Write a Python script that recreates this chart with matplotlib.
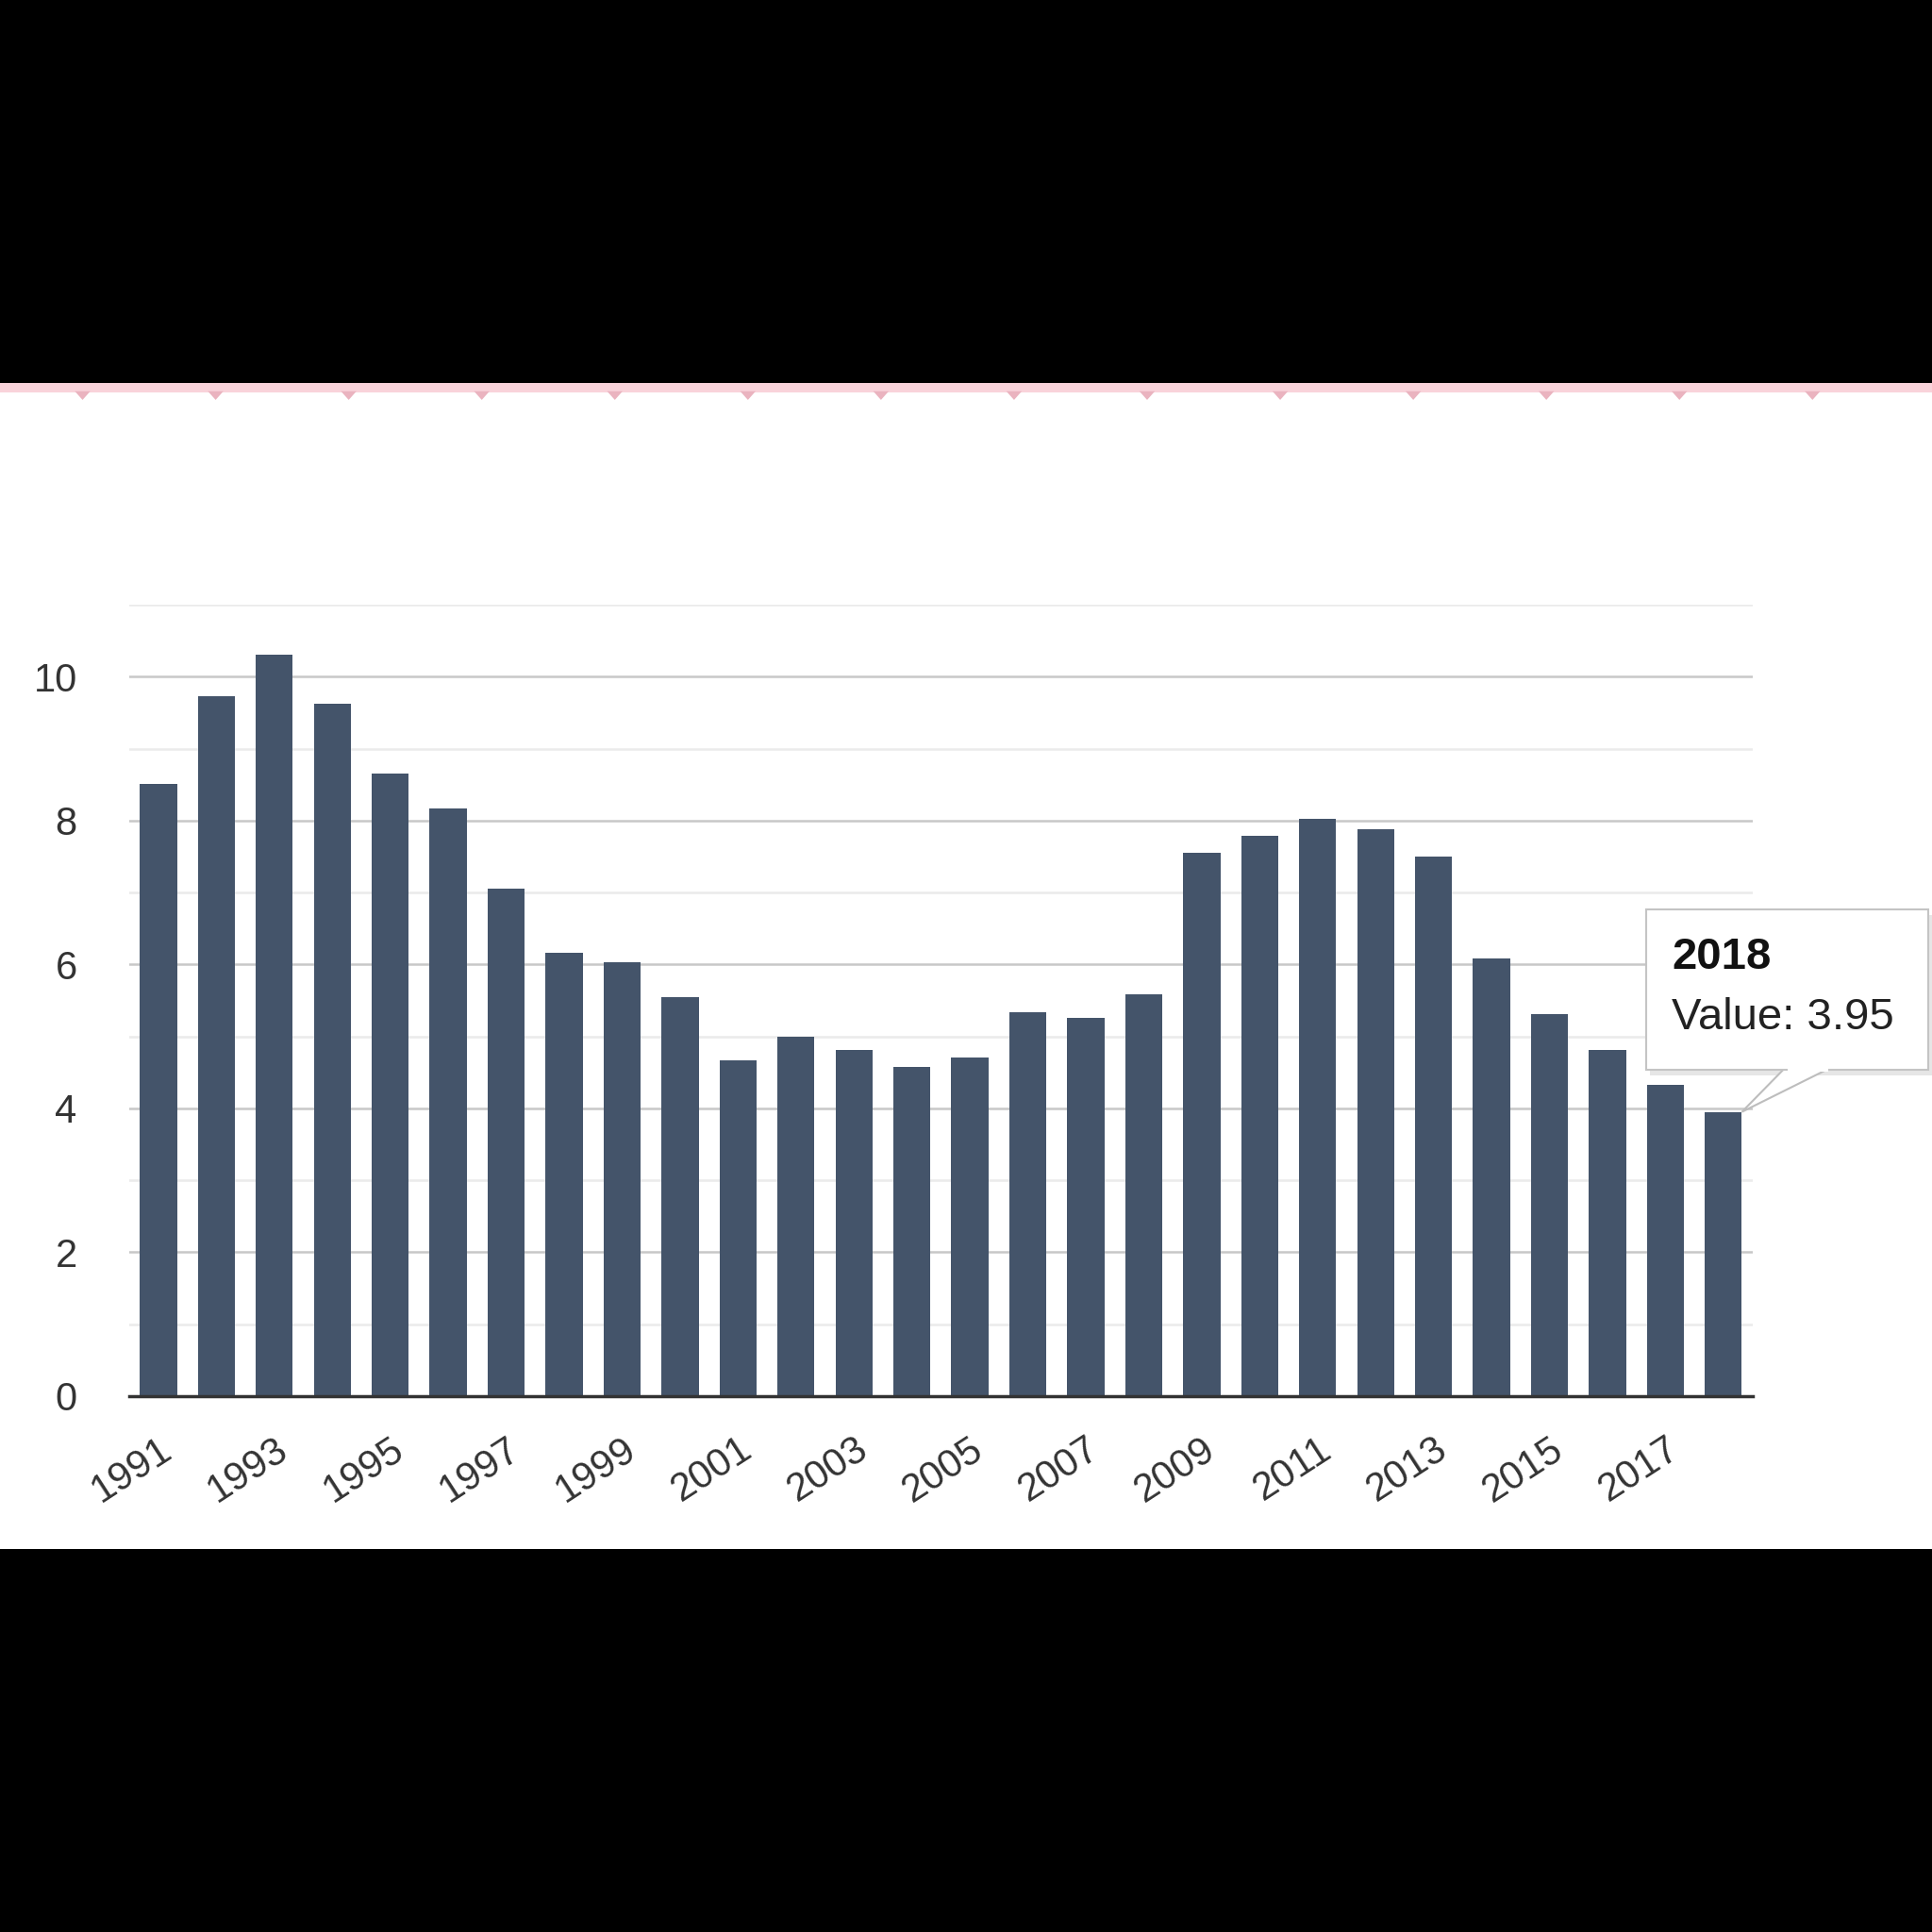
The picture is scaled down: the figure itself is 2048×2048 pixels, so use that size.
import numpy as np
import matplotlib.pyplot as plt
from matplotlib.patches import Rectangle, Polygon

plt.rcParams['font.family'] = ['Liberation Sans', 'DejaVu Sans']

# 数据
years = list(range(1991, 2019))
values = [8.51, 9.73, 10.31, 9.62, 8.65, 8.17, 7.05, 6.16, 6.03, 5.55,
          4.67, 5.00, 4.81, 4.57, 4.71, 5.34, 5.26, 5.58, 7.55, 7.79,
          8.03, 7.88, 7.50, 6.08, 5.31, 4.81, 4.32, 3.95]
tick_years = [str(y) for y in years[::2]]
tip_year = '2018'
tip_value = 3.95

bar_color = '#44546a'

fig = plt.figure(figsize=(20.48, 20.48), dpi=100, facecolor='black')

# 白色底板 + 顶部粉色线
fig.add_artist(Rectangle((0, 0.198), 1, 0.604, transform=fig.transFigure,
                         facecolor='white', edgecolor='none', zorder=0))
fig.add_artist(Rectangle((0, 0.797), 1, 0.005, transform=fig.transFigure,
                         facecolor='#f9d3da', edgecolor='none', zorder=1))
for i in range(15):
    cx = (67 + 108 * i) / 1568
    fig.add_artist(Polygon([[cx - 0.004, 0.7975], [cx + 0.004, 0.7975], [cx, 0.793]],
                           closed=True, transform=fig.transFigure,
                           facecolor='#eab3bf', edgecolor='none', zorder=1))

ax = fig.add_axes([0.067, 0.2774, 0.84, 0.4096])
ax.set_facecolor('none')
x = np.arange(len(years))
ax.bar(x, values, width=0.64, color=bar_color, zorder=3)

ax.set_xlim(-0.5, len(years) - 0.5)
ax.set_ylim(0, 11)
ax.set_yticks(range(0, 11, 2))
ax.set_yticks(range(1, 12, 2), minor=True)
ax.grid(True, axis='y', which='major', color='#c8c8c8', lw=1.8, zorder=1)
ax.grid(True, axis='y', which='minor', color='#ebebeb', lw=1.8, zorder=1)
for s in ['top', 'right', 'left']:
    ax.spines[s].set_visible(False)
ax.spines['bottom'].set_color('#333333')
ax.spines['bottom'].set_linewidth(2.5)
ax.spines['bottom'].set_zorder(4)

ax.set_xticks(x[::2])
ax.set_xticklabels(tick_years, rotation=33, ha='right', rotation_mode='anchor',
                   fontsize=30, color='#333333')
ax.tick_params(axis='x', length=0, pad=26)
ax.tick_params(axis='y', which='both', length=0, pad=40, labelsize=30,
               labelcolor='#333333')

# 提示框
fig.canvas.draw()
tip_x, tip_y = fig.transFigure.inverted().transform(
    ax.transData.transform((x[-1] + 0.32, tip_value)))
bx0, by0, bw, bh = 1336 / 1568, 1 - 868 / 1568, 229 / 1568, 130 / 1568
# 阴影
fig.add_artist(Rectangle((bx0 + 0.002, by0 - 0.003), bw, bh, transform=fig.transFigure,
                         facecolor='#e6e6e6', edgecolor='none', zorder=5))
fig.add_artist(Polygon([[1449 / 1568, by0 + 0.001], [1486 / 1568, by0 + 0.001],
                        [tip_x, tip_y]], closed=True, transform=fig.transFigure,
                       facecolor='white', edgecolor='#bdbdbd', lw=1.5, zorder=6))
fig.add_artist(Rectangle((bx0, by0), bw, bh, transform=fig.transFigure,
                         facecolor='white', edgecolor='#c4c4c4', lw=1.5, zorder=6))
fig.add_artist(Rectangle((1451 / 1568, by0 - 0.001), 33 / 1568, 0.004,
                         transform=fig.transFigure,
                         facecolor='white', edgecolor='none', zorder=7))
fig.text(1357 / 1568, 1 - 777 / 1568, tip_year, fontsize=34, fontweight='bold',
         color='#111111', va='center', ha='left', zorder=8)
fig.text(1357 / 1568, 1 - 826 / 1568, 'Value: ' + str(tip_value), fontsize=34,
         color='#222222', va='center', ha='left', zorder=8)

fig.savefig('out.png', dpi=100, facecolor='black')
